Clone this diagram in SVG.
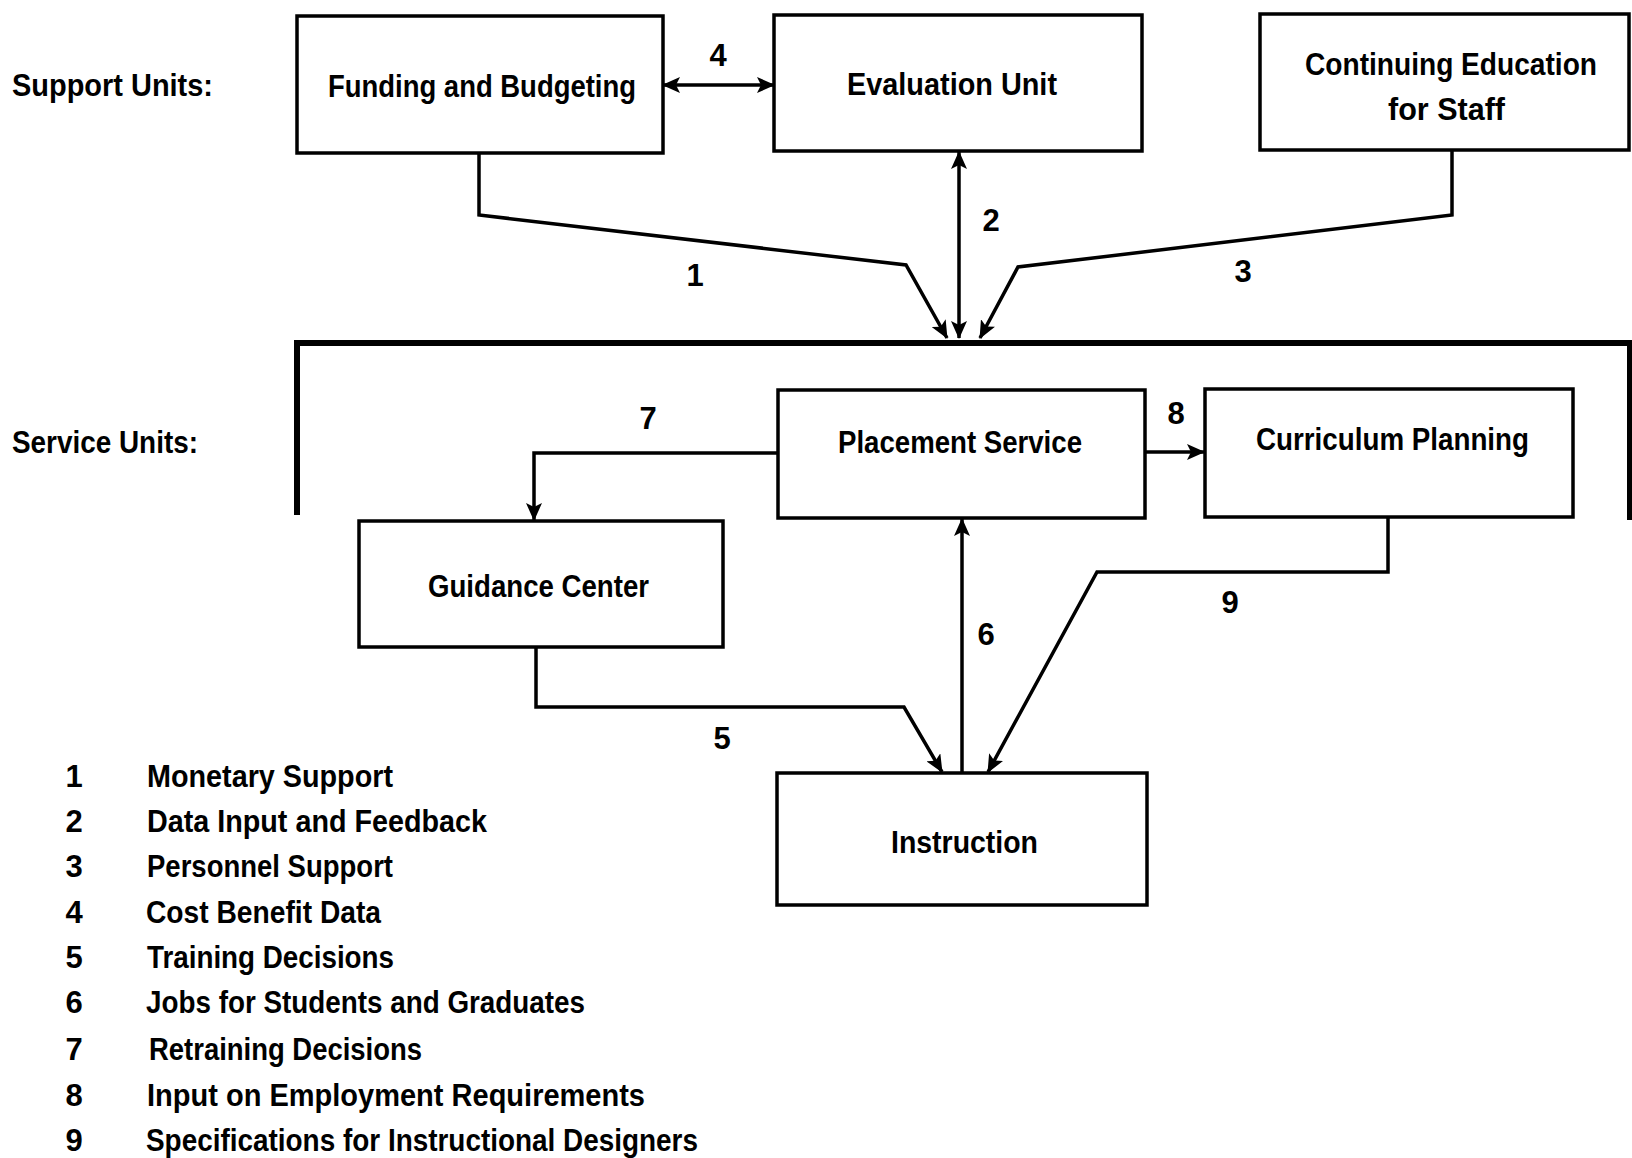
<svg xmlns="http://www.w3.org/2000/svg" width="1632" height="1158" viewBox="0 0 1632 1158">
<style>
  .box { fill: #ffffff; stroke: #000000; stroke-width: 3.5; }
  .conn { fill: none; stroke: #000000; stroke-width: 3.5; stroke-linejoin: miter; }
  .bracket { fill: none; stroke: #000000; stroke-width: 6; }
  text { font-family: "Liberation Sans Narrow", "Liberation Sans", Arial, sans-serif; font-weight: bold; font-size: 31px; fill: #000000; }
  .c { text-anchor: middle; }
</style>
<defs>
  <marker id="ah" markerUnits="userSpaceOnUse" markerWidth="18" markerHeight="16" refX="17" refY="8" orient="auto-start-reverse">
    <path d="M0,0 L18,8 L0,16 L4,8 Z" fill="#000000"/>
  </marker>
</defs>
<rect width="1632" height="1158" fill="#ffffff"/>

<text x="12" y="96" textLength="201" lengthAdjust="spacingAndGlyphs">Support Units:</text>
<text x="12" y="453" textLength="186" lengthAdjust="spacingAndGlyphs">Service Units:</text>

<g id="connectors">
  <path class="bracket" d="M297,515 V343 H1630 V520"/>
  <path class="conn" d="M479,153 V215 L906,265 L947,338" marker-end="url(#ah)"/>
  <path class="conn" d="M959,152 V338" marker-start="url(#ah)" marker-end="url(#ah)"/>
  <path class="conn" d="M1452,150 V215 L1018,267 L980,338" marker-end="url(#ah)"/>
  <path class="conn" d="M663,85 H774" marker-start="url(#ah)" marker-end="url(#ah)"/>
  <path class="conn" d="M536,647 V707 H904 L942,772" marker-end="url(#ah)"/>
  <path class="conn" d="M962,773 V519" marker-end="url(#ah)"/>
  <path class="conn" d="M778,453 H534 V520" marker-end="url(#ah)"/>
  <path class="conn" d="M1145,452 H1204" marker-end="url(#ah)"/>
  <path class="conn" d="M1388,517 V572 H1097 L988,772" marker-end="url(#ah)"/>
  <text class="c" x="718" y="66">4</text>
  <text class="c" x="695" y="286">1</text>
  <text class="c" x="991" y="231">2</text>
  <text class="c" x="1243" y="282">3</text>
  <text class="c" x="648" y="429">7</text>
  <text class="c" x="1176" y="424">8</text>
  <text class="c" x="986" y="645">6</text>
  <text class="c" x="1230" y="613">9</text>
  <text class="c" x="722" y="749">5</text>
</g>

<g id="funding">
  <rect class="box" x="297" y="16" width="366" height="137"/>
  <text x="328" y="97" textLength="308" lengthAdjust="spacingAndGlyphs">Funding and Budgeting</text>
</g>
<g id="evaluation">
  <rect class="box" x="774" y="15" width="368" height="136"/>
  <text x="847" y="95" textLength="210" lengthAdjust="spacingAndGlyphs">Evaluation Unit</text>
</g>
<g id="continuing">
  <rect class="box" x="1260" y="14" width="369" height="136"/>
  <text x="1305" y="75" textLength="292" lengthAdjust="spacingAndGlyphs">Continuing Education</text>
  <text x="1388" y="120" textLength="117" lengthAdjust="spacingAndGlyphs">for Staff</text>
</g>
<g id="placement">
  <rect class="box" x="778" y="390" width="367" height="128"/>
  <text x="838" y="453" textLength="244" lengthAdjust="spacingAndGlyphs">Placement Service</text>
</g>
<g id="curriculum">
  <rect class="box" x="1205" y="389" width="368" height="128"/>
  <text x="1256" y="450" textLength="273" lengthAdjust="spacingAndGlyphs">Curriculum Planning</text>
</g>
<g id="guidance">
  <rect class="box" x="359" y="521" width="364" height="126"/>
  <text x="428" y="597" textLength="221" lengthAdjust="spacingAndGlyphs">Guidance Center</text>
</g>
<g id="instruction">
  <rect class="box" x="777" y="773" width="370" height="132"/>
  <text x="891" y="853" textLength="147" lengthAdjust="spacingAndGlyphs">Instruction</text>
</g>

<g id="legend">
  <text class="c" x="74" y="787">1</text>
  <text x="147" y="787" textLength="246" lengthAdjust="spacingAndGlyphs">Monetary Support</text>
  <text class="c" x="74" y="832">2</text>
  <text x="147" y="832" textLength="340" lengthAdjust="spacingAndGlyphs">Data Input and Feedback</text>
  <text class="c" x="74" y="877">3</text>
  <text x="147" y="877" textLength="246" lengthAdjust="spacingAndGlyphs">Personnel Support</text>
  <text class="c" x="74" y="923">4</text>
  <text x="146" y="923" textLength="235" lengthAdjust="spacingAndGlyphs">Cost Benefit Data</text>
  <text class="c" x="74" y="968">5</text>
  <text x="147" y="968" textLength="247" lengthAdjust="spacingAndGlyphs">Training Decisions</text>
  <text class="c" x="74" y="1013">6</text>
  <text x="146" y="1013" textLength="439" lengthAdjust="spacingAndGlyphs">Jobs for Students and Graduates</text>
  <text class="c" x="74" y="1060">7</text>
  <text x="149" y="1060" textLength="273" lengthAdjust="spacingAndGlyphs">Retraining Decisions</text>
  <text class="c" x="74" y="1106">8</text>
  <text x="147" y="1106" textLength="498" lengthAdjust="spacingAndGlyphs">Input on Employment Requirements</text>
  <text class="c" x="74" y="1151">9</text>
  <text x="146" y="1151" textLength="552" lengthAdjust="spacingAndGlyphs">Specifications for Instructional Designers</text>
</g>
</svg>
